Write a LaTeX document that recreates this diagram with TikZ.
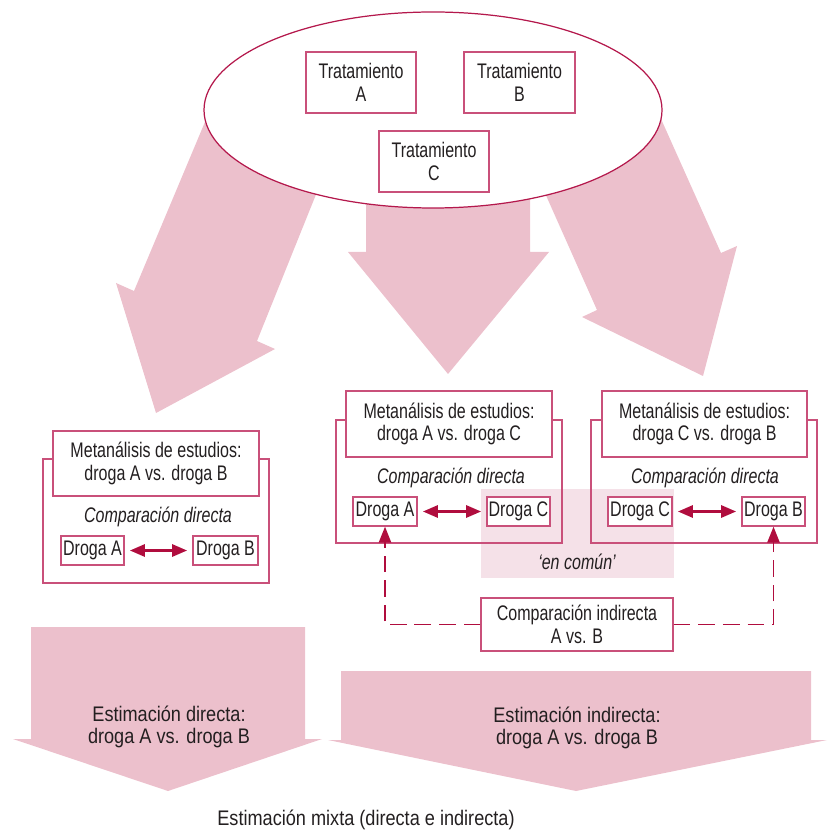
\documentclass[tikz,border=0pt]{standalone}
\usepackage{fontspec}
\setmainfont{Liberation Sans}[FakeStretch=0.76]
\newfontfamily\widerfont{Liberation Sans}[FakeStretch=0.86]
\usetikzlibrary{arrows.meta,shapes.geometric}
\definecolor{pinkfill}{HTML}{ECC0CC}
\definecolor{shadefill}{HTML}{F5E1E8}
\definecolor{boxline}{HTML}{C9507A}
\definecolor{darkline}{HTML}{B4184C}
\definecolor{arrowred}{HTML}{B00D3E}
\definecolor{txt}{HTML}{231F20}
\tikzset{
  bigarrow/.style={fill=pinkfill, draw=none},
  box/.style={draw=boxline, line width=0.8pt, fill=white, inner sep=0pt, align=center, text=txt},
  frame/.style={draw=boxline, line width=0.8pt, inner sep=0pt},
  sz/.style 2 args={minimum width=#1*0.02cm, minimum height=#2*0.02cm},
  lbl/.style={text=txt, align=center, inner sep=0pt},
  itlbl/.style={lbl, font=\fontsize{12}{13}\selectfont\itshape},
  estlbl/.style={lbl, font=\widerfont\fontsize{12}{12.5}\selectfont},
  dbl/.style={arrowred, line width=1.2pt, {Triangle[length=8.5pt,width=7pt]}-{Triangle[length=8.5pt,width=7pt]}, shorten <=3pt, shorten >=3pt},
  ind/.style={arrowred, line width=0.8pt, dash pattern=on 9.5pt off 4.5pt, -{Triangle[length=9pt,width=7pt]}}
}
\begin{document}
\begin{tikzpicture}[x=0.02cm, y=-0.02cm, font=\fontsize{12}{13}\selectfont]
\useasboundingbox (0,0) rectangle (829,830);
% big pink arrows from the pool
\fill[bigarrow] (210,110) -- (134,291) -- (116,283) -- (156,413) -- (275,349) -- (257,341) -- (350,110) -- cycle;
\fill[bigarrow] (366,150) -- (366,252) -- (348,252) -- (448,374) -- (549,252) -- (530,252) -- (530,150) -- cycle;
\fill[bigarrow] (508,110) -- (597,310) -- (582,317) -- (703,376) -- (737,246) -- (721,253) -- (657,110) -- cycle;
% pool of treatments
\node[ellipse, draw=darkline, line width=0.7pt, fill=white, inner sep=0pt, minimum width=458*0.02cm, minimum height=196*0.02cm] (pool) at (433,110) {};
\node[box, sz={110}{61}] (tA) at (361,82.5) {Tratamiento\\A};
\node[box, sz={111}{61}] (tB) at (519.5,82.5) {Tratamiento\\B};
\node[box, sz={110}{61}] (tC) at (434,161.5) {Tratamiento\\C};
% shaded common area
\node[fill=shadefill, inner sep=0pt, sz={193}{89}] (common) at (577.5,533.5) {};
\node[itlbl] (comtxt) at (577,562) {‘en común’};
% left meta-analysis
\node[frame, sz={226}{124}] (Lout) at (156,521) {};
\node[box, sz={206}{65}] (Ltit) at (156,463.5) {Metanálisis de estudios:\\droga A vs. droga B};
\node[itlbl] (Lcd) at (158,517) {Comparación directa};
\node[box, sz={63}{29}] (LA) at (92.5,550.5) {Droga A};
\node[box, sz={65}{29}] (LB) at (225.5,550.5) {Droga B};
\draw[dbl] (LA.east) -- (LB.west);
% middle meta-analysis
\node[frame, sz={226}{123}] (Mout) at (449,481.5) {};
\node[box, sz={206}{66}] (Mtit) at (449,424) {Metanálisis de estudios:\\droga A vs. droga C};
\node[itlbl] (Mcd) at (451,478) {Comparación directa};
\node[box, sz={64}{29}] (MA) at (385,511.5) {Droga A};
\node[box, sz={63}{29}] (MC) at (518.5,511.5) {Droga C};
\draw[dbl] (MA.east) -- (MC.west);
% right meta-analysis
\node[frame, sz={226}{123}] (Rout) at (704,481.5) {};
\node[box, sz={205}{66}] (Rtit) at (704.5,424) {Metanálisis de estudios:\\droga C vs. droga B};
\node[itlbl] (Rcd) at (705,478) {Comparación directa};
\node[box, sz={64}{29}] (RC) at (640,511.5) {Droga C};
\node[box, sz={63}{29}] (RB) at (773.5,511.5) {Droga B};
\draw[dbl] (RC.east) -- (RB.west);
% indirect comparison
\node[box, sz={192}{53}] (ind) at (577,624.5) {Comparación indirecta\\A vs. B};
\draw[ind] (ind.west) -| (MA.south);
\draw[ind] (ind.east) -| (RB.south);
% lower estimation arrows
\fill[bigarrow] (31,627) -- (305,627) -- (305,739) -- (322,739) -- (168,791) -- (13,739) -- (31,739) -- cycle;
\fill[bigarrow] (341,671) -- (811,671) -- (811,740) -- (827,740) -- (576,791) -- (328,740) -- (341,740) -- cycle;
\node[estlbl] (estD) at (169,727) {Estimación directa:\\droga A vs. droga B};
\node[estlbl] (estI) at (577,728) {Estimación indirecta:\\droga A vs. droga B};
\node[estlbl] (mixta) at (366,820) {Estimación mixta (directa e indirecta)};
\end{tikzpicture}
\end{document}
